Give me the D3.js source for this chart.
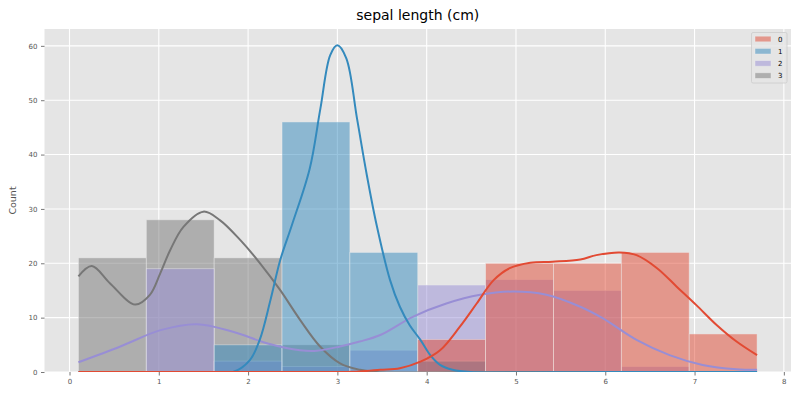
<!DOCTYPE html>
<html>
<head>
<meta charset="utf-8">
<script src="https://cdn.jsdelivr.net/npm/d3@7"></script>
<style>
  html, body { margin: 0; padding: 0; background: #ffffff; }
  svg { display: block; font-family: "DejaVu Sans", sans-serif; }
</style>
</head>
<body>
<svg id="chart" width="800" height="400"></svg>
<script>
// ---------- data ----------
const title = "sepal length (cm)";
const yLabel = "Count";
const seriesNames = ["0", "1", "2", "3"];
const seriesColors = ["#E24A33", "#348ABD", "#988ED5", "#777777"];
const binEdges = [0.1, 0.86, 1.62, 2.38, 3.14, 3.9, 4.66, 5.42, 6.18, 6.94, 7.7];

const counts0 = [0, 0, 0, 0, 0, 6, 20, 20, 22, 7];
const counts1 = [0, 0, 5, 46, 22, 2, 0, 0, 0, 0];
const counts2 = [0, 19, 2, 1, 4, 16, 17, 15, 1, 0];
const counts3 = [21, 28, 21, 5, 0, 0, 0, 0, 0, 0];

// KDE curves: [x, count]
const kde0 = [[0.1,0],[1.0,0],[2.0,0],[3.0,0],[3.25,0.1],[3.48,0.4],[3.70,0.7],[3.93,1.9],[4.15,4.0],[4.37,8.3],[4.56,12.6],[4.75,16.9],[4.93,19.1],[5.16,20.1],[5.41,20.3],[5.72,20.7],[5.90,21.5],[6.16,22.0],[6.35,21.5],[6.58,19.1],[6.80,15.7],[7.02,12.3],[7.25,8.6],[7.47,5.6],[7.70,3.1]];
const kde1 = [[0.1,0],[1.0,0],[1.83,0],[2.02,2.2],[2.13,5.9],[2.25,13.2],[2.36,20.6],[2.49,27.0],[2.69,37.4],[2.81,48.5],[2.92,58.3],[3.00,60.1],[3.10,57.7],[3.22,46.6],[3.33,36.2],[3.44,27.0],[3.59,16.9],[3.70,12.0],[3.81,8.6],[3.93,5.9],[4.04,3.1],[4.15,1.3],[4.29,0.4],[4.49,0],[6.0,0],[7.7,0]];
const kde2 = [[0.1,1.8],[0.57,4.7],[1.02,7.7],[1.43,8.8],[1.83,7.4],[2.21,5.3],[2.58,4.0],[2.77,3.9],[3.03,4.7],[3.25,5.6],[3.48,6.8],[3.85,10.2],[4.22,12.6],[4.60,14.2],[4.97,14.8],[5.34,14.2],[5.72,12.0],[5.97,9.9],[6.35,5.9],[6.72,3.1],[7.09,1.3],[7.47,0.5],[7.70,0.4]];
const kde3 = [[0.10,17.6],[0.25,19.5],[0.455,16.3],[0.735,12.4],[0.90,14.2],[1.015,18.1],[1.127,22.4],[1.276,26.7],[1.50,29.5],[1.687,27.9],[1.911,24.3],[2.134,20.0],[2.358,15.1],[2.582,9.6],[2.806,4.7],[3.03,1.6],[3.254,0.4],[3.44,0],[5.0,0],[7.7,0]];

const xTicks = [0, 1, 2, 3, 4, 5, 6, 7, 8];
const yTicks = [0, 10, 20, 30, 40, 50, 60];

// ---------- layout ----------
const svg = d3.select("#chart");
const plot = { left: 44.5, right: 791, top: 29, bottom: 372 };
const x = d3.scaleLinear().domain([-0.28, 8.08]).range([plot.left, plot.right]);
const y = d3.scaleLinear().domain([0, 63.1]).range([plot.bottom, plot.top]);

svg.append("rect").attr("width", 800).attr("height", 400).attr("fill", "#ffffff");
svg.append("rect")
  .attr("x", plot.left).attr("y", plot.top)
  .attr("width", plot.right - plot.left).attr("height", plot.bottom - plot.top)
  .attr("fill", "#E5E5E5");

svg.append("defs").append("clipPath").attr("id", "clip")
  .append("rect")
  .attr("x", plot.left).attr("y", plot.top)
  .attr("width", plot.right - plot.left).attr("height", plot.bottom - plot.top);

// grid
const grid = svg.append("g");
grid.selectAll("line.gx").data(xTicks).enter().append("line")
  .attr("x1", d => x(d)).attr("x2", d => x(d))
  .attr("y1", plot.top).attr("y2", plot.bottom)
  .attr("stroke", "#ffffff").attr("stroke-width", 1.1);
grid.selectAll("line.gy").data(yTicks).enter().append("line")
  .attr("x1", plot.left).attr("x2", plot.right)
  .attr("y1", d => y(d)).attr("y2", d => y(d))
  .attr("stroke", "#ffffff").attr("stroke-width", 1.1);

// bars (drawn in reverse hue order, like seaborn)
const allCounts = [counts0, counts1, counts2, counts3];
const barsG = svg.append("g").attr("clip-path", "url(#clip)");
for (let s = 3; s >= 0; s--) {
  const data = allCounts[s].map((c, i) => ({ x0: binEdges[i], x1: binEdges[i + 1], c }));
  barsG.append("g").selectAll("rect").data(data.filter(d => d.c > 0)).enter().append("rect")
    .attr("x", d => x(d.x0))
    .attr("width", d => x(d.x1) - x(d.x0))
    .attr("y", d => y(d.c))
    .attr("height", d => y(0) - y(d.c))
    .attr("fill", seriesColors[s]).attr("fill-opacity", 0.5)
    .attr("stroke", "#eeeeee").attr("stroke-opacity", 0.55).attr("stroke-width", 0.8);
}

// kde lines
const allKde = [kde0, kde1, kde2, kde3];
const line = d3.line().x(d => x(d[0])).y(d => y(d[1])).curve(d3.curveCatmullRom.alpha(0.5));
const linesG = svg.append("g").attr("clip-path", "url(#clip)");
for (let s = 3; s >= 0; s--) {
  linesG.append("path").datum(allKde[s])
    .attr("d", line)
    .attr("fill", "none")
    .attr("stroke", seriesColors[s])
    .attr("stroke-width", 2)
    .attr("stroke-linejoin", "round");
}

// axes
const xAxis = d3.axisBottom(x).tickValues(xTicks).tickSize(3.5).tickPadding(3.5).tickFormat(d3.format("d"));
const yAxis = d3.axisLeft(y).tickValues(yTicks).tickSize(3.5).tickPadding(3.5).tickFormat(d3.format("d"));
const gx = svg.append("g").attr("transform", `translate(0,${plot.bottom})`).call(xAxis);
const gy = svg.append("g").attr("transform", `translate(${plot.left},0)`).call(yAxis);
[gx, gy].forEach(g => {
  g.select(".domain").remove();
  g.selectAll(".tick line").attr("stroke", "#555555").attr("stroke-width", 0.8);
  g.selectAll(".tick text").attr("fill", "#555555").attr("font-size", "7px")
    .attr("font-family", "DejaVu Sans, sans-serif");
});

// labels
svg.append("text")
  .attr("x", (plot.left + plot.right) / 2).attr("y", 20)
  .attr("text-anchor", "middle").attr("font-size", "14px").attr("fill", "#000000")
  .text(title);
svg.append("text")
  .attr("transform", `translate(16,${(plot.top + plot.bottom) / 2}) rotate(-90)`)
  .attr("text-anchor", "middle").attr("font-size", "9.5px").attr("fill", "#555555")
  .text(yLabel);

// legend
const lg = svg.append("g");
lg.append("rect")
  .attr("x", 751.5).attr("y", 32.5).attr("width", 35.5).attr("height", 50.5).attr("rx", 1.5)
  .attr("fill", "#E5E5E5").attr("fill-opacity", 0.8)
  .attr("stroke", "#cccccc").attr("stroke-width", 0.8);
seriesNames.forEach((name, i) => {
  const cy = 39 + i * 12.2;
  lg.append("rect")
    .attr("x", 755).attr("y", cy - 2.8).attr("width", 16).attr("height", 5.6)
    .attr("fill", seriesColors[i]).attr("fill-opacity", 0.5)
    .attr("stroke", "#eeeeee").attr("stroke-opacity", 0.55).attr("stroke-width", 0.8);
  lg.append("text")
    .attr("x", 778).attr("y", cy + 2.6)
    .attr("font-size", "7px").attr("fill", "#000000")
    .text(name);
});
</script>
</body>
</html>
